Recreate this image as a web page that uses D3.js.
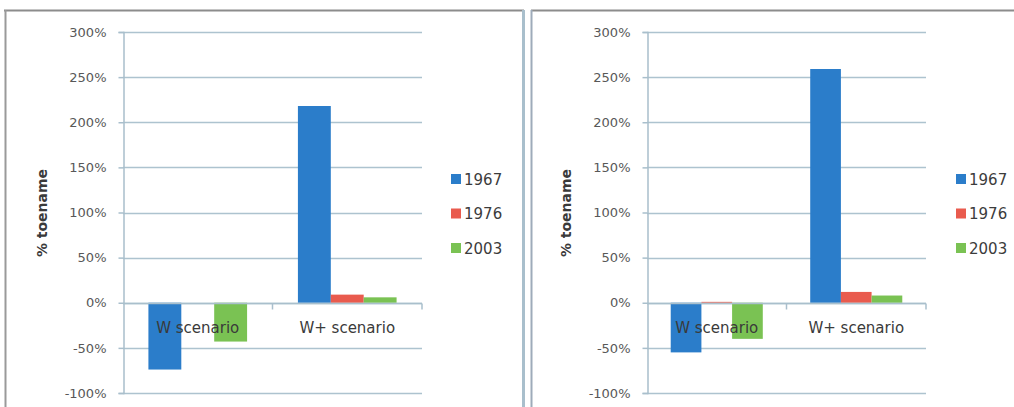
<!DOCTYPE html>
<html>
<head>
<meta charset="utf-8">
<script src="https://cdn.jsdelivr.net/npm/d3@7/dist/d3.min.js"></script>
<style>
  html, body { margin: 0; padding: 0; background: #ffffff; }
  svg { display: block; }
  text { font-family: "DejaVu Sans", sans-serif; }
</style>
</head>
<body>
<svg id="chart" width="1014" height="407"></svg>
<script>
// Scenario categories and years
const categories = ["W scenario", "W+ scenario"];
const years = ["1967", "1976", "2003"];
const yearColors = ["#2b7dca", "#e95b4e", "#7ac253"];

// Left panel: % change per year for each scenario
const left1967 = [-74, 218];
const left1976 = [0, 9];
const left2003 = [-43, 6];

// Right panel: % change per year for each scenario
const right1967 = [-55, 259];
const right1976 = [1, 12];
const right2003 = [-40, 8];

// Value axis ticks
const yTicks = [-100, -50, 0, 50, 100, 150, 200, 250, 300];
const yTitle = "% toename";

const svg = d3.select("#chart");

// Panel frames
const frame = svg.append("g");
frame.append("line").attr("x1", 4).attr("x2", 524).attr("y1", 10.5).attr("y2", 10.5)
  .attr("stroke", "#8c8c8c").attr("stroke-width", 2);
frame.append("line").attr("x1", 531).attr("x2", 1014).attr("y1", 10.5).attr("y2", 10.5)
  .attr("stroke", "#8c8c8c").attr("stroke-width", 2);
frame.append("line").attr("x1", 5.5).attr("x2", 5.5).attr("y1", 10).attr("y2", 407)
  .attr("stroke", "#9a9a9a").attr("stroke-width", 2);
frame.append("line").attr("x1", 523.5).attr("x2", 523.5).attr("y1", 10).attr("y2", 407)
  .attr("stroke", "#a9bfcc").attr("stroke-width", 3);
frame.append("line").attr("x1", 531.5).attr("x2", 531.5).attr("y1", 10).attr("y2", 407)
  .attr("stroke", "#9eabba").attr("stroke-width", 2);

function drawPanel(opts) {
  const series = [opts.s1967, opts.s1976, opts.s2003];
  const g = svg.append("g");

  const y = d3.scaleLinear().domain([-100, 300]).range([393, 32]);
  const x0 = d3.scaleBand().domain(categories).range([opts.left, opts.right]).padding(0);
  const pad = x0.bandwidth() * 0.17;
  const x1 = d3.scaleBand().domain(years).range([pad, x0.bandwidth() - pad]).padding(0);

  // Gridlines
  g.append("g").selectAll("line").data(yTicks).join("line")
    .attr("x1", opts.left).attr("x2", opts.right)
    .attr("y1", d => Math.round(y(d)) + 0.5).attr("y2", d => Math.round(y(d)) + 0.5)
    .attr("stroke", "#adc3cf").attr("stroke-width", 1.5);

  // Value axis
  const yAxis = g.append("g")
    .attr("transform", `translate(${opts.left + 0.5},0)`)
    .call(d3.axisLeft(y).tickValues(yTicks).tickSize(5).tickPadding(12).tickFormat(d => d + "%"));
  yAxis.select(".domain").attr("stroke", "#a9bfcc").attr("stroke-width", 1.5);
  yAxis.selectAll(".tick line").attr("stroke", "#a9bfcc").attr("stroke-width", 1.5);
  yAxis.selectAll(".tick text")
    .attr("fill", "#585858").style("font-size", "13px").style("font-family", "DejaVu Sans, sans-serif");

  // Bars
  years.forEach((yr, i) => {
    g.append("g").selectAll("rect").data(series[i].map((v, j) => ({ cat: categories[j], v })))
      .join("rect")
      .attr("x", d => x0(d.cat) + x1(yr))
      .attr("width", x1.bandwidth())
      .attr("y", d => y(Math.max(0, d.v)))
      .attr("height", d => Math.abs(y(d.v) - y(0)))
      .attr("fill", yearColors[i]);
  });

  // Category axis along zero
  const zeroY = Math.round(y(0)) + 0.5;
  g.append("line").attr("x1", opts.left).attr("x2", opts.right)
    .attr("y1", zeroY).attr("y2", zeroY).attr("stroke", "#a9bfcc").attr("stroke-width", 1.5);
  const boundaries = [x0(categories[1]), opts.right];
  g.append("g").selectAll("line").data(boundaries).join("line")
    .attr("x1", d => d).attr("x2", d => d)
    .attr("y1", zeroY).attr("y2", zeroY + 6)
    .attr("stroke", "#a9bfcc").attr("stroke-width", 1.5);

  g.append("g").selectAll("text").data(categories).join("text")
    .attr("x", d => x0(d) + x0.bandwidth() / 2)
    .attr("y", 333)
    .attr("text-anchor", "middle")
    .attr("fill", "#3a3a3a")
    .style("font-size", "15px")
    .text(d => d);

  // Axis title
  g.append("text")
    .attr("transform", `translate(${opts.left - 76},213) rotate(-90)`)
    .attr("text-anchor", "middle")
    .attr("fill", "#3a3a3a")
    .style("font-size", "14px")
    .style("font-weight", "bold")
    .text(yTitle);

  // Legend
  const lg = g.append("g").attr("transform", `translate(${opts.legendX},0)`);
  years.forEach((yr, i) => {
    const cy = 179 + i * 34.5;
    lg.append("rect").attr("x", 0).attr("y", cy - 5).attr("width", 10).attr("height", 10)
      .attr("fill", yearColors[i]);
    lg.append("text").attr("x", 13).attr("y", cy + 5.5)
      .attr("fill", "#3c3c3c").style("font-size", "15px").text(yr);
  });
}

drawPanel({ left: 123, right: 422, legendX: 451, s1967: left1967, s1976: left1976, s2003: left2003 });
drawPanel({ left: 647, right: 926, legendX: 956, s1967: right1967, s1976: right1976, s2003: right2003 });
</script>
</body>
</html>
